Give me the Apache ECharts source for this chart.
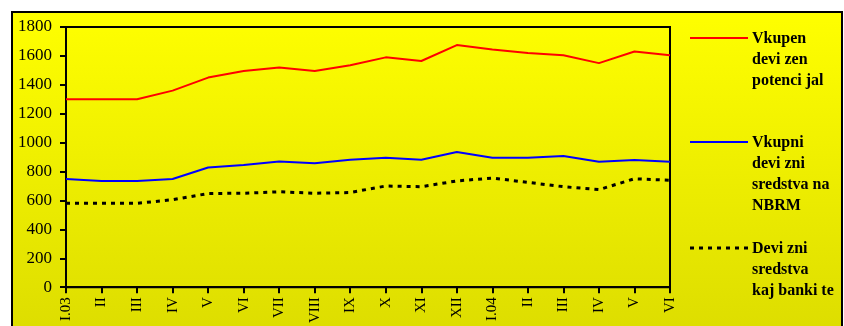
<!DOCTYPE html>
<html>
<head>
<meta charset="utf-8">
<script src="https://cdn.jsdelivr.net/npm/echarts@6/dist/echarts.min.js"></script>
<style>
  html, body { margin: 0; padding: 0; background: #ffffff; }
  #chart { width: 844px; height: 326px; }
</style>
</head>
<body>
<div id="chart"></div>
<script>
// Months: January 2003 to June 2004
const months = ['I.03', 'II', 'III', 'IV', 'V', 'VI', 'VII', 'VIII', 'IX', 'X', 'XI', 'XII',
                'I.04', 'II', 'III', 'IV', 'V', 'VI'];

// Total foreign-exchange potential
const vkupenPotencijal = [1300, 1300, 1300, 1360, 1450, 1495, 1520, 1495, 1535, 1590,
                          1565, 1675, 1645, 1620, 1605, 1550, 1630, 1605];
// Total foreign-exchange assets of NBRM
const sredstvaNBRM = [748, 734, 734, 748, 828, 845, 870, 857, 882, 895,
                      882, 935, 895, 895, 908, 868, 880, 868];
// Foreign-exchange assets of banks
const sredstvaBanki = [580, 580, 580, 605, 648, 650, 660, 650, 655, 700,
                       695, 735, 755, 725, 695, 675, 750, 740];

const yTicks = { min: 0, max: 1800, interval: 200 };

const legendItems = [
  { text: 'Vkupen\ndevi zen\npotenci jal', color: '#ff0000', type: 'solid', y: 38 },
  { text: 'Vkupni\ndevi zni\nsredstva na\nNBRM', color: '#0000ff', type: 'solid', y: 142 },
  { text: 'Devi zni\nsredstva\nkaj banki te', color: '#000000', type: [4, 5], y: 248 }
];

const serif = '"Liberation Serif", "Times New Roman", serif';
const chart = echarts.init(document.getElementById('chart'));

const legendGraphics = [];
legendItems.forEach(function (it) {
  legendGraphics.push({
    type: 'line',
    shape: { x1: 690, y1: it.y, x2: 748, y2: it.y },
    style: { stroke: it.color, lineWidth: it.type === 'solid' ? 2 : 3, lineDash: it.type === 'solid' ? null : it.type },
    z: 10
  });
  legendGraphics.push({
    type: 'text',
    x: 752,
    y: it.y - 10,
    style: {
      text: it.text,
      font: 'bold 16px ' + serif,
      fill: '#000000',
      lineHeight: 21
    },
    z: 10
  });
});

chart.setOption({
  animation: false,
  backgroundColor: '#ffffff',
  graphic: [
    {
      type: 'rect',
      shape: { x: 12, y: 12, width: 830, height: 330 },
      style: {
        fill: new echarts.graphic.LinearGradient(0, 0, 0, 1, [
          { offset: 0, color: '#ffff00' },
          { offset: 1, color: '#dcdc00' }
        ]),
        stroke: '#000000',
        lineWidth: 2
      },
      z: -10
    }
  ].concat(legendGraphics),
  grid: {
    left: 66, top: 27, right: 174, bottom: 36,
    show: true,
    borderColor: '#000000',
    borderWidth: 2,
    backgroundColor: 'transparent'
  },
  xAxis: {
    type: 'category',
    data: months,
    boundaryGap: false,
    axisLine: { lineStyle: { color: '#000000', width: 2 } },
    axisTick: { show: true, alignWithLabel: true, length: 6, lineStyle: { color: '#000000', width: 2 } },
    axisLabel: {
      rotate: 90,
      interval: 0,
      margin: 10,
      color: '#000000',
      fontFamily: serif,
      fontSize: 15
    },
    splitLine: { show: false }
  },
  yAxis: {
    type: 'value',
    min: yTicks.min,
    max: yTicks.max,
    interval: yTicks.interval,
    axisLine: { show: true, lineStyle: { color: '#000000', width: 2 } },
    axisTick: { show: true, length: 6, lineStyle: { color: '#000000', width: 2 } },
    axisLabel: {
      margin: 14,
      color: '#000000',
      fontFamily: serif,
      fontSize: 17,
      formatter: function (v) { return String(v); }
    },
    splitLine: { show: false }
  },
  series: [
    {
      name: 'Vkupen devizen potencijal',
      type: 'line',
      data: vkupenPotencijal,
      symbol: 'none',
      lineStyle: { color: '#ff0000', width: 2 }
    },
    {
      name: 'Vkupni devizni sredstva na NBRM',
      type: 'line',
      data: sredstvaNBRM,
      symbol: 'none',
      lineStyle: { color: '#0000ff', width: 2 }
    },
    {
      name: 'Devizni sredstva kaj bankite',
      type: 'line',
      data: sredstvaBanki,
      symbol: 'none',
      lineStyle: { color: '#000000', width: 3, type: [4, 5] }
    }
  ]
});
</script>
</body>
</html>
